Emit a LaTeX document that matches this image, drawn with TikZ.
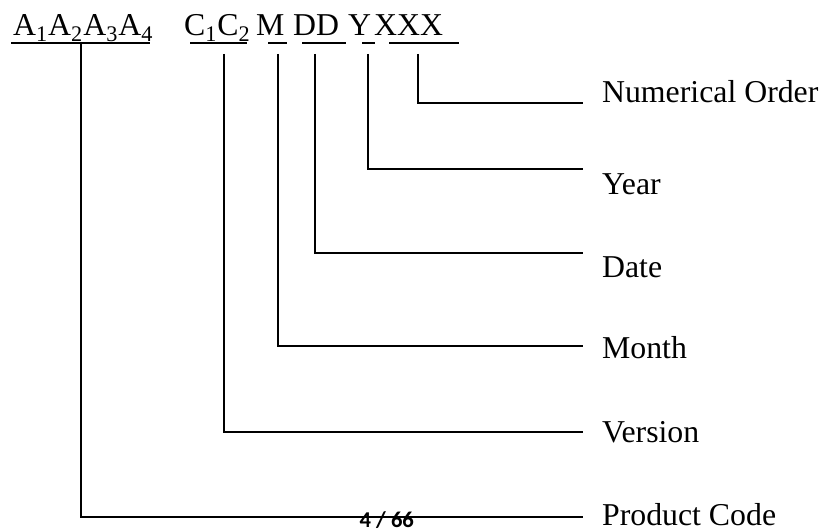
\documentclass[tikz,border=0pt]{standalone}
\usepackage{fontspec}
\setmainfont{Liberation Serif}
\newfontfamily\footfont{Carlito}

\begin{document}
\begin{tikzpicture}[x=0.5pt,y=-0.5pt,line width=1.1pt,
    code/.style={anchor=base west,inner sep=0pt,font=\fontsize{15.9}{19}\selectfont},
    field/.style={anchor=base west,inner sep=0pt,font=\fontsize{15.9}{19}\selectfont}]
    \useasboundingbox (0,0) rectangle (822,529);

    % パラメータの定義
    \pgfmathsetmacro{\ytop}{54}
    \pgfmathsetmacro{\xend}{583}
    \pgfmathsetmacro{\xlab}{601}

    % コードの文字
    \node[code] (codeA) at (12,36) {A\textsubscript{1}A\textsubscript{2}A\textsubscript{3}A\textsubscript{4}};
    \node[code] (codeC) at (183,36) {C\textsubscript{1}C\textsubscript{2}};
    \node[code] (codeM) at (255,36) {M};
    \node[code] (codeD) at (292,36) {DD};
    \node[code] (codeY) at (347,36) {Y};
    \node[code] (codeX) at (373,36) {XXX};

    % 下線
    \draw (11,43) -- (150,43);
    \draw (190,43) -- (247,43);
    \draw (268,43) -- (287,43);
    \draw (302,43) -- (346,43);
    \draw (362,43) -- (375,43);
    \draw (389,43) -- (459,43);

    % 線の端点の座標
    \coordinate (A) at (81,43);
    \coordinate (C) at (224,\ytop);
    \coordinate (M) at (278,\ytop);
    \coordinate (D) at (315,\ytop);
    \coordinate (Y) at (368,\ytop);
    \coordinate (X) at (418,\ytop);
    \coordinate (Xend) at (\xend,103);
    \coordinate (Yend) at (\xend,169);
    \coordinate (Dend) at (\xend,253);
    \coordinate (Mend) at (\xend,346);
    \coordinate (Cend) at (\xend,432);
    \coordinate (Aend) at (\xend,517);

    % ラベル
    \node[field] (order) at (\xlab,103) {Numerical Order};
    \node[field] (year) at (\xlab,194) {Year};
    \node[field] (date) at (\xlab,277) {Date};
    \node[field] (month) at (\xlab,358) {Month};
    \node[field] (version) at (\xlab,442) {Version};
    \node[field] (product) at (\xlab,525) {Product Code};

    % 線の描画
    \draw (X) |- (Xend);
    \draw (Y) |- (Yend);
    \draw (D) |- (Dend);
    \draw (M) |- (Mend);
    \draw (C) |- (Cend);
    \draw (A) |- (Aend);

    % ページ番号
    \node[anchor=base west,inner sep=0pt,font=\footfont\bfseries\fontsize{11.3}{13}\selectfont] (page) at (358.5,527.5) {4 / 66};

\end{tikzpicture}
\end{document}
